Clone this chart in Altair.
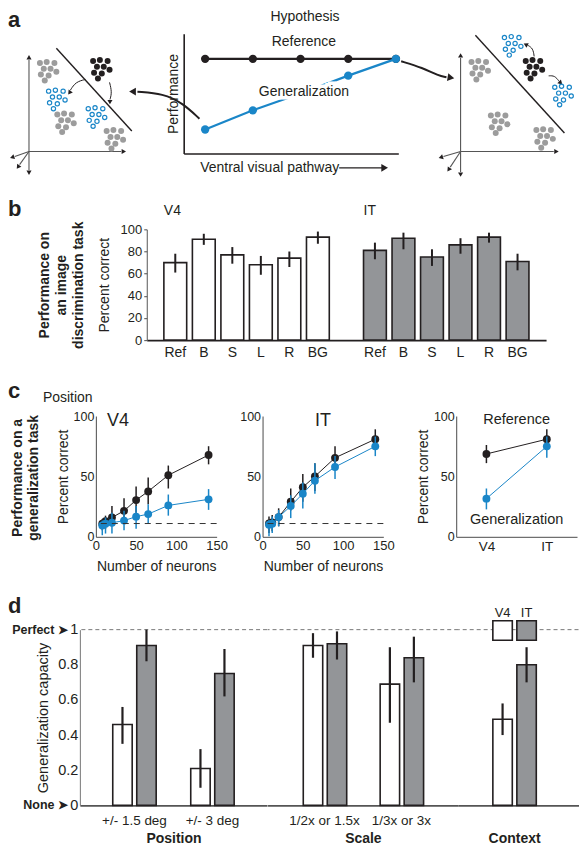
import altair as alt
import pandas as pd

FONT = "Liberation Sans"
INK = "#231f20"
BLUE = "#1a86c8"
GRAYBAR = "#939598"
GRAYDOT = "#9c9c9c"
AXISC = "#4a4a4a"

# ---------------- panel a: hypothesis ----------------
hyp_stage = [1, 2, 3, 4, 5]
hyp_reference = [0.79, 0.79, 0.79, 0.79, 0.79]
hyp_generalization = [0.20, 0.36, 0.50, 0.65, 0.79]

# population-space sketches (sketch units)
blob_dx = [-8, -1, 7, -4, 3, 9, -7, 1, -3]
blob_dy = [8, 9, 8, 2, 2, -1, -4, -5, -10]
cluster_kind = ["other", "reference", "generalization", "generalization", "other", "other"]
left_cluster_x = [41, 96, 50, 91, 59, 110]
left_cluster_y = [85, 87, 56, 38, 32, 15]
right_cluster_x = [30, 86, 64, 116, 50, 97]
right_cluster_y = [86, 87, 111, 60, 31, 16]

left_axes_x = [21.7, 21.7, 21.7, 21.7, 21.7]
left_axes_y = [2, 2, 2, 2, 2]
left_axes_x2 = [21.7, 117, 21.7, 7, 12]
left_axes_y2 = [96, 2, -17, -3, -11.5]
left_head_x = [21.7, 119, 21.7, 5, 10.8, 64, 105.4]
left_head_y = [98, 2, -19, -3.7, -13.3, 63, 53.5]
left_head_angle = [0, 90, 180, 252, 215, 215, 180]
left_boundary = [50, 108, 128, 23]
left_curve_id = ["p", "p", "p", "q", "q", "q"]
left_curve_x = [80, 70, 64.5, 105, 107.5, 105.5]
left_curve_y = [76, 73.5, 65, 73, 63, 55.5]

right_axes_x = [10.7, 10.7, 10.7, 10.7, 10.7]
right_axes_y = [2, 2, 2, 2, 2]
right_axes_x2 = [10.7, 107, 10.7, -7, 0]
right_axes_y2 = [98, 2, -19, -3.2, -14]
right_head_x = [10.7, 109, 10.7, -9, -1.2, 78.6, 113.6]
right_head_y = [100, 2, -21, -3.8, -16, 111.5, 73]
right_head_angle = [0, 90, 180, 252, 215, 297, 135]
right_boundary = [26, 121.3, 118, 21]
right_curve_id = ["p", "p", "p", "q", "q", "q"]
right_curve_x = [86.7, 85.5, 80, 101.7, 108, 112.5]
right_curve_y = [99.7, 108, 111.2, 79.7, 80, 74]

# arrows leaving the hypothesis plot (stage / performance units)
hyp_arrow_id = ["l", "l", "l", "l", "r", "r", "r", "r"]
hyp_arrow_s = [0.88, 0.53, 0.12, -0.42, 5.11, 5.56, 5.89, 6.06]
hyp_arrow_v = [0.29, 0.42, 0.50, 0.515, 0.77, 0.715, 0.65, 0.637]
hyp_head_s = [-0.50, 6.13, 4.74]
hyp_head_v = [0.517, 0.634, -0.12]
hyp_head_angle = [270, 100, 90]

# ---------------- panel b ----------------
b_conditions = ["Ref", "B", "S", "L", "R", "BG"]
b_v4_mean = [70, 91, 77, 68, 74, 93]
b_v4_lo = [61, 86, 69, 59, 66, 87]
b_v4_hi = [78, 96, 84, 76, 80, 98]
b_it_mean = [81, 92, 75, 86, 93, 71]
b_it_lo = [73, 82, 67, 78, 88, 63]
b_it_hi = [88, 97, 82, 92, 97, 78]

# ---------------- panel c ----------------
c_neurons = [8, 12, 20, 35, 50, 65, 90, 140]
c_v4_ref = [10.8, 12.9, 16, 21.5, 30.4, 37.6, 51, 67.7]
c_v4_ref_lo = [5.4, 6.7, 9.4, 12, 20, 27, 40, 60]
c_v4_ref_hi = [14.8, 17.5, 25.5, 32, 41.7, 49, 59, 75]
c_v4_gen = [9.4, 10.8, 11.6, 13.4, 16.7, 18.8, 26, 31]
c_v4_gen_lo = [1.3, 2.7, 2.7, 5.4, 6.7, 10.8, 17.5, 22.3]
c_v4_gen_hi = [13.4, 16, 20, 21.5, 25.5, 27, 35, 39.5]
c_it_ref = [11, 12, 16.3, 29, 41, 50, 65.4, 80.8]
c_it_ref_lo = [3.2, 4.6, 8.7, 21.7, 29, 38, 56, 73]
c_it_ref_hi = [16.8, 18, 23.6, 40, 52, 61, 75, 89]
c_it_gen = [10, 10.8, 16.3, 25.5, 35.7, 46.5, 57.8, 74.9]
c_it_gen_lo = [0.5, 3.2, 8.7, 15.5, 23.5, 35.7, 47.8, 66.8]
c_it_gen_hi = [14, 16.8, 22.2, 34.4, 45, 61, 66.8, 83]
c_chance = 11
c_areas = ["V4", "IT"]
c_sum_ref = [68.6, 80.8]
c_sum_ref_lo = [61, 73.5]
c_sum_ref_hi = [76, 89]
c_sum_gen = [31.6, 74.9]
c_sum_gen_lo = [22.7, 65.4]
c_sum_gen_hi = [40, 83]

# ---------------- panel d ----------------
d_conditions = ["+/- 1.5 deg", "+/- 3 deg", "1/2x or 1.5x", "1/3x or 3x", "Context"]
d_groups = ["Position", "Position", "Scale", "Scale", "Context"]
d_v4_mean = [0.46, 0.21, 0.91, 0.69, 0.49]
d_v4_lo = [0.35, 0.10, 0.84, 0.47, 0.40]
d_v4_hi = [0.56, 0.32, 0.98, 0.90, 0.58]
d_it_mean = [0.91, 0.75, 0.92, 0.84, 0.80]
d_it_lo = [0.82, 0.62, 0.83, 0.70, 0.70]
d_it_hi = [1.00, 0.89, 0.99, 0.96, 0.90]

ONE = pd.DataFrame({"k": [0]})


def letter(ch, ypx):
    return alt.Chart(ONE).mark_text(text=ch, fontSize=22, fontWeight="bold", align="left",
                                    baseline="top", color=INK).encode(
        x=alt.value(0), y=alt.value(ypx))


def side_text(text, xpx, ypx, size, lh):
    # multi-line rotated label: xpx is the centre of the first line
    return alt.Chart(ONE).mark_text(
        angle=270, fontSize=size, fontWeight="bold", lineHeight=lh, lineBreak="\n",
        align="center", baseline="middle", color=INK, text=text).encode(
        x=alt.value(xpx), y=alt.value(ypx))


def spacer(w, h):
    return alt.Chart(ONE).mark_text(text="", opacity=0).properties(width=w, height=h)


# ================= panel a =================
def sketch(cx, cy, ax, ay, ax2, ay2, hx, hy, ha, bound, cid, cxs, cys, xmax, width, extra=None):
    xs = alt.Scale(domain=[0, xmax], nice=False, zero=False)
    ys = alt.Scale(domain=[0, 123], nice=False, zero=False)
    X = alt.X("x:Q", scale=xs, axis=None)
    Y = alt.Y("y:Q", scale=ys, axis=None)
    pts = pd.DataFrame([{"x": x0 + dx, "y": y0 + dy, "kind": k}
                        for x0, y0, k in zip(cx, cy, cluster_kind)
                        for dx, dy in zip(blob_dx, blob_dy)])
    axes = pd.DataFrame({"x": ax, "y": ay, "x2": ax2, "y2": ay2})
    heads = pd.DataFrame({"x": hx, "y": hy, "a": ha})
    bnd = pd.DataFrame({"x": [bound[0]], "y": [bound[1]], "x2": [bound[2]], "y2": [bound[3]]})
    crv = pd.DataFrame({"id": cid, "x": cxs, "y": cys, "o": list(range(len(cid)))})
    layers = [
        alt.Chart(axes).mark_rule(color="#555555", strokeWidth=1.1).encode(X, Y, x2="x2:Q", y2="y2:Q"),
        alt.Chart(bnd).mark_rule(color=INK, strokeWidth=1.4).encode(X, Y, x2="x2:Q", y2="y2:Q"),
        alt.Chart(crv).mark_line(color=INK, strokeWidth=1, interpolate="basis").encode(
            X, Y, detail="id:N", order="o:Q"),
        alt.Chart(heads).mark_point(shape="triangle", filled=True, color=INK, size=26, opacity=1).encode(
            X, Y, angle=alt.Angle("a:Q", scale=None)),
        alt.Chart(pts).transform_filter("datum.kind == 'other'").mark_circle(
            size=36, color=GRAYDOT, opacity=1).encode(X, Y),
        alt.Chart(pts).transform_filter("datum.kind == 'reference'").mark_circle(
            size=36, color=INK, opacity=1).encode(X, Y),
        alt.Chart(pts).transform_filter("datum.kind == 'generalization'").mark_point(
            shape="circle", size=18, color=BLUE, strokeWidth=1.2, filled=False, opacity=1).encode(X, Y),
    ]
    if extra is not None:
        layers.append(extra)
    return alt.layer(*layers).properties(width=width, height=120)


a_left = sketch(left_cluster_x, left_cluster_y, left_axes_x, left_axes_y, left_axes_x2, left_axes_y2,
                left_head_x, left_head_y, left_head_angle, left_boundary,
                left_curve_id, left_curve_x, left_curve_y, 128, 124, extra=letter("a", -24))
a_right = sketch(right_cluster_x, right_cluster_y, right_axes_x, right_axes_y, right_axes_x2, right_axes_y2,
                 right_head_x, right_head_y, right_head_angle, right_boundary,
                 right_curve_id, right_curve_x, right_curve_y, 132, 128)

hyp = pd.DataFrame({"stage": hyp_stage * 2, "value": hyp_reference + hyp_generalization,
                    "series": ["Reference"] * 5 + ["Generalization"] * 5})
HX = alt.Scale(domain=[0.55, 5.05], nice=False, zero=False)
HY = alt.Scale(domain=[0, 1], nice=False, zero=False)
HXA = alt.Axis(title=None, labels=False, ticks=False, domainColor=INK, domainWidth=1.6)
HYA = alt.Axis(title="Performance", labels=False, ticks=False, domainColor=INK, domainWidth=1.6,
               titleFontSize=14, titleFontWeight="normal", titlePadding=3)


def hx(f):
    return alt.X(f, scale=HX, axis=HXA)


def hy(f):
    return alt.Y(f, scale=HY, axis=HYA)


hyp_arrows = pd.DataFrame({"id": hyp_arrow_id, "s": hyp_arrow_s, "v": hyp_arrow_v,
                           "o": list(range(len(hyp_arrow_id)))})
hyp_heads = pd.DataFrame({"s": hyp_head_s, "v": hyp_head_v, "a": hyp_head_angle})
hyp_text = pd.DataFrame({"s": [3.07, 3.07], "v": [0.93, 0.51], "t": ["Reference", "Generalization"]})
ventral = pd.DataFrame({"s": [3.81], "v": [-0.12], "s2": [4.72], "t": ["Ventral visual pathway"]})

a_mid = alt.layer(
    alt.Chart(hyp).transform_filter("datum.series == 'Reference'").mark_line(
        color=INK, strokeWidth=2.4).encode(hx("stage:Q"), hy("value:Q")),
    alt.Chart(hyp).transform_filter("datum.series == 'Reference'").mark_circle(
        color=INK, size=70, opacity=1).encode(hx("stage:Q"), hy("value:Q")),
    alt.Chart(hyp).transform_filter("datum.series == 'Generalization'").mark_line(
        color=BLUE, strokeWidth=2.2).encode(hx("stage:Q"), hy("value:Q")),
    alt.Chart(hyp).transform_filter("datum.series == 'Generalization'").mark_circle(
        color=BLUE, size=70, opacity=1).encode(hx("stage:Q"), hy("value:Q")),
    alt.Chart(hyp_text).mark_text(fontSize=14, color="white", stroke="white", strokeWidth=7).encode(
        hx("s:Q"), hy("v:Q"), text="t:N"),
    alt.Chart(hyp_text).mark_text(fontSize=14, color=INK).encode(hx("s:Q"), hy("v:Q"), text="t:N"),
    alt.Chart(hyp_arrows).mark_line(color=INK, strokeWidth=2, interpolate="basis").encode(
        hx("s:Q"), hy("v:Q"), detail="id:N", order="o:Q"),
    alt.Chart(ventral).mark_rule(color=INK, strokeWidth=1.4).encode(hx("s:Q"), hy("v:Q"), x2="s2:Q"),
    alt.Chart(ventral).mark_text(fontSize=14, color=INK, align="right", baseline="middle").encode(
        hx("s:Q"), hy("v:Q"), text="t:N"),
    alt.Chart(hyp_heads).mark_point(shape="triangle", filled=True, color=INK, size=60, opacity=1).encode(
        hx("s:Q"), hy("v:Q"), angle=alt.Angle("a:Q", scale=None)),
    alt.Chart(ONE).mark_text(text="Hypothesis", fontSize=14, baseline="alphabetic", color=INK).encode(
        x=alt.value(121.5), y=alt.value(-13)),
).properties(width=215, height=120)

row_a = alt.hconcat(a_left, a_mid, a_right, spacing=52, bounds="flush")

# ================= panel b =================
b_keys = [f"V4|{c}" for c in b_conditions] + ["gap|"] + [f"IT|{c}" for c in b_conditions]
b_df = pd.DataFrame({
    "key": [f"V4|{c}" for c in b_conditions] + [f"IT|{c}" for c in b_conditions],
    "region": ["V4"] * 6 + ["IT"] * 6,
    "mean": b_v4_mean + b_it_mean,
    "lo": b_v4_lo + b_it_lo,
    "hi": b_v4_hi + b_it_hi,
})
BXS = alt.Scale(domain=b_keys, paddingInner=0.2, paddingOuter=0.6)
BYS = alt.Scale(domain=[0, 100], nice=False)
BXA = alt.Axis(title=None, labelExpr="split(datum.label, '|')[1]", labelAngle=0, ticks=False,
               tickSize=0, domainColor=INK, domainWidth=1.8, labelFontSize=14, labelPadding=5)
BYA = alt.Axis(values=[0, 20, 40, 60, 80, 100], title="Percent correct", titleFontSize=14,
               titleFontWeight="normal", labelFontSize=13, tickSize=3, titlePadding=9,
               labelPadding=2, labelOverlap=False, domainColor="#555555")


def bxe(f, **kw):
    return alt.X(f, sort=b_keys, scale=BXS, axis=BXA, **kw)


def bye(f):
    return alt.Y(f, scale=BYS, axis=BYA)


b_lab = pd.DataFrame({"key": ["V4|Ref", "IT|Ref"], "txt": ["V4", "IT"], "y": [113, 113]})
b_bars = alt.layer(
    alt.Chart(b_df).mark_bar(stroke=INK, strokeWidth=1.6).encode(
        bxe("key:N"), bye("mean:Q"),
        fill=alt.Fill("region:N", scale=alt.Scale(domain=["V4", "IT"], range=["white", GRAYBAR]),
                      legend=None)),
    alt.Chart(b_df).mark_rule(color=INK, strokeWidth=2).encode(bxe("key:N"), bye("lo:Q"), y2="hi:Q"),
    alt.Chart(b_lab).mark_text(align="left", baseline="alphabetic", fontSize=14, color=INK).encode(
        bxe("key:N", bandPosition=0), bye("y:Q"), text="txt:N"),
).properties(width=400, height=111)

b_label = alt.layer(
    letter("b", -30),
    side_text("Performance on\nan image\ndiscrimination task", 37, 56, 14, 17),
).properties(width=139, height=111)
row_b = alt.hconcat(b_label, b_bars, spacing=0, bounds="flush")

# ================= panel c =================
NXS = alt.Scale(domain=[0, 150], nice=False, zero=False)
PYS = alt.Scale(domain=[0, 100], nice=False, zero=False)
NXA = alt.Axis(values=[0, 50, 100, 150], title="Number of neurons", titleFontSize=14,
               titleFontWeight="normal", labelFontSize=13, tickSize=0, ticks=False, labelPadding=3,
               titlePadding=7, labelFlush=False, labelOverlap=False)
AXA = alt.Axis(title=None, labelAngle=0, labelFontSize=13.5, tickSize=0, ticks=False, labelPadding=3)


def y_axis_c(title):
    return alt.Axis(values=[0, 50, 100], title=title, titleFontSize=14, titleFontWeight="normal",
                    labelFontSize=12.5, tickSize=0, ticks=False, labelPadding=2, titlePadding=3,
                    labelOverlap=False)


def series_layers(df, xfun, yfun):
    out = []
    for s, col in [("Reference", INK), ("Generalization", BLUE)]:
        sub = df[df["series"] == s]
        out.append(alt.Chart(sub).mark_rule(color=col, strokeWidth=1.5).encode(
            xfun(), yfun("lo:Q"), y2="hi:Q"))
        out.append(alt.Chart(sub).mark_line(color=col, strokeWidth=1).encode(xfun(), yfun("m:Q")))
        out.append(alt.Chart(sub).mark_circle(color=col, size=62, opacity=1).encode(xfun(), yfun("m:Q")))
    return out


def neuron_chart(ref, rlo, rhi, gen, glo, ghi, area, lab_x, lab_align, y_title, extra=None):
    df = pd.DataFrame({"n": c_neurons * 2, "series": ["Reference"] * 8 + ["Generalization"] * 8,
                       "m": ref + gen, "lo": rlo + glo, "hi": rhi + ghi})
    YA = y_axis_c(y_title)

    def xf(f="n:Q"):
        return alt.X(f, scale=NXS, axis=NXA)

    def yf(f):
        return alt.Y(f, scale=PYS, axis=YA)

    base = alt.Chart(pd.DataFrame({"c": [c_chance]})).mark_rule(
        strokeDash=[6, 5], color="#333333", strokeWidth=1).encode(y=yf("c:Q"))
    lab = alt.Chart(pd.DataFrame({"n": [lab_x], "m": [96], "t": [area]})).mark_text(
        fontSize=18, color=INK, align=lab_align, baseline="middle").encode(xf(), yf("m:Q"), text="t:N")
    layers = [*series_layers(df, xf, yf), base, lab]
    if extra is not None:
        layers.append(extra)
    return alt.layer(*layers).properties(width=121, height=121)


position_note = alt.Chart(ONE).mark_text(text="Position", fontSize=14, align="left",
                                         baseline="alphabetic", color=INK).encode(
    x=alt.value(-53), y=alt.value(-14))
c_v4 = neuron_chart(c_v4_ref, c_v4_ref_lo, c_v4_ref_hi, c_v4_gen, c_v4_gen_lo, c_v4_gen_hi,
                    "V4", 14, "left", "Percent correct", extra=position_note)
c_it = neuron_chart(c_it_ref, c_it_ref_lo, c_it_ref_hi, c_it_gen, c_it_gen_lo, c_it_gen_hi,
                    "IT", 75, "center", None)

sum_df = pd.DataFrame({"area": c_areas * 2, "series": ["Reference"] * 2 + ["Generalization"] * 2,
                       "m": c_sum_ref + c_sum_gen, "lo": c_sum_ref_lo + c_sum_gen_lo,
                       "hi": c_sum_ref_hi + c_sum_gen_hi})
AXS = alt.Scale(type="point", domain=c_areas, padding=0.5)
SYA = y_axis_c("Percent correct")


def sxf():
    return alt.X("area:N", scale=AXS, sort=c_areas, axis=AXA)


def syf(f):
    return alt.Y(f, scale=PYS, axis=SYA)


sum_text = alt.Chart(pd.DataFrame({"m": [97, 14], "t": ["Reference", "Generalization"]})).mark_text(
    fontSize=14.5, color=INK, baseline="middle").encode(syf("m:Q"), text="t:N")
c_sum = alt.layer(*series_layers(sum_df, sxf, syf), sum_text).properties(width=121, height=121)

c_label = alt.layer(
    letter("c", -35),
    side_text("Performance on a\ngeneralization task", 10, 62, 14, 16),
).properties(width=87.5, height=121)
row_c = alt.hconcat(c_label, c_v4, spacer(46, 121), c_it, spacer(73, 121), c_sum,
                    spacing=0, bounds="flush")

# ================= panel d =================
d_df = pd.DataFrame({
    "cond": d_conditions * 2,
    "group": d_groups * 2,
    "area": ["V4"] * 5 + ["IT"] * 5,
    "mean": d_v4_mean + d_it_mean,
    "lo": d_v4_lo + d_it_lo,
    "hi": d_v4_hi + d_it_hi,
})
DYS = alt.Scale(domain=[0, 1], nice=False, zero=False)
XOFF = alt.Scale(domain=["V4", "IT"], paddingInner=0.19, paddingOuter=0.72)
D_YAXIS = alt.Axis(values=[0, 0.2, 0.4, 0.6, 0.8, 1],
                   labelExpr="datum.value == 0 ? '0' : datum.value == 1 ? '1' : format(datum.value, '.1f')",
                   title="Generalization capacity", titleFontSize=14.5, titleFontWeight="normal",
                   labelFontSize=14.5, domain=True, domainColor="#777777", ticks=False, tickSize=0,
                   labelPadding=2, titlePadding=7, labelOverlap=False)


def cap_chart(group, width, po, align, show_y, extra=None, title_x=None, labels=True):
    conds = [c for c, g in zip(d_conditions, d_groups) if g == group]
    sub = d_df[d_df["group"] == group]
    xs = alt.Scale(domain=conds, paddingInner=0, paddingOuter=po, align=align)
    ax_kw = dict(title=group, titleFontWeight="bold", titleFontSize=14, labelFontSize=13.5, ticks=False,
                 tickSize=0, domainColor="#555555", domainWidth=1.6, labelPadding=8, labelAngle=0,
                 titleY=33, titleBaseline="middle", labels=labels)
    if title_x is not None:
        ax_kw["titleX"] = title_x
    XA = alt.Axis(**ax_kw)
    YA = D_YAXIS if show_y else None

    def xf():
        return alt.X("cond:N", sort=conds, scale=xs, axis=XA)

    def yf(f):
        return alt.Y(f, scale=DYS, axis=YA)

    XO = alt.XOffset("area:N", sort=["V4", "IT"], scale=XOFF)
    layers = [
        alt.Chart(pd.DataFrame({"p": [1]})).mark_rule(strokeDash=[4, 3], color="#777777",
                                                        strokeWidth=1).encode(yf("p:Q")),
        alt.Chart(sub).mark_bar(stroke=INK, strokeWidth=1.6).encode(
            xf(), XO, yf("mean:Q"),
            fill=alt.Fill("area:N", scale=alt.Scale(domain=["V4", "IT"], range=["white", GRAYBAR]),
                          legend=None)),
        alt.Chart(sub).mark_rule(color=INK, strokeWidth=2.2).encode(xf(), XO, yf("lo:Q"), y2="hi:Q"),
    ]
    if extra is not None:
        layers += extra(xf, XO, yf)
    return alt.layer(*layers).properties(width=width, height=176)


def pos_extra(xf, XO, yf):
    return [alt.Chart(pd.DataFrame({"v": [1, 0], "t": ["Perfect \u27a4", "None \u27a4"]})).mark_text(
        align="right", baseline="middle", dx=-12, fontWeight="bold", fontSize=12.5, color=INK).encode(
        x=alt.value(0), y=yf("v:Q"), text="t:N")]


def ctx_extra(xf, XO, yf):
    leg = pd.DataFrame({"cond": ["Context", "Context"], "area": ["V4", "IT"], "sq": [0.995, 0.995],
                        "ty": [1.095, 1.095]})
    return [
        alt.Chart(leg).mark_point(shape="square", filled=True, size=380, stroke=INK, strokeWidth=1.6,
                                  opacity=1).encode(
            xf(), XO, yf("sq:Q"),
            fill=alt.Fill("area:N", scale=alt.Scale(domain=["V4", "IT"], range=["white", GRAYBAR]),
                          legend=None)),
        alt.Chart(leg).mark_text(fontSize=13, color=INK, baseline="middle").encode(
            xf(), XO, yf("ty:Q"), text="area:N"),
    ]


d_letter = alt.layer(letter("d", -34)).properties(width=72, height=176)
d_pos = cap_chart("Position", 187.5, 0.2, 0.5, True, extra=pos_extra)
d_scl = cap_chart("Scale", 191, 0.24, 0.5, False)
d_ctx = cap_chart("Context", 120.5, 0.3, 0.385, False, extra=ctx_extra, title_x=56, labels=False)
row_d = alt.hconcat(d_letter, d_pos, d_scl, d_ctx, spacing=0, bounds="flush")

chart = alt.vconcat(row_a, row_b, row_c, row_d, spacing=21).properties(
    padding={"left": 0, "top": 0, "right": 0, "bottom": 0}
).configure(font=FONT).configure_view(stroke=None).configure_axis(
    labelFont=FONT, titleFont=FONT, labelColor=INK, titleColor=INK, grid=False,
    domainColor=AXISC, tickColor=AXISC, labelOverlap=False
)

chart.save("out.html", embed_options={"renderer": "svg", "actions": False})
